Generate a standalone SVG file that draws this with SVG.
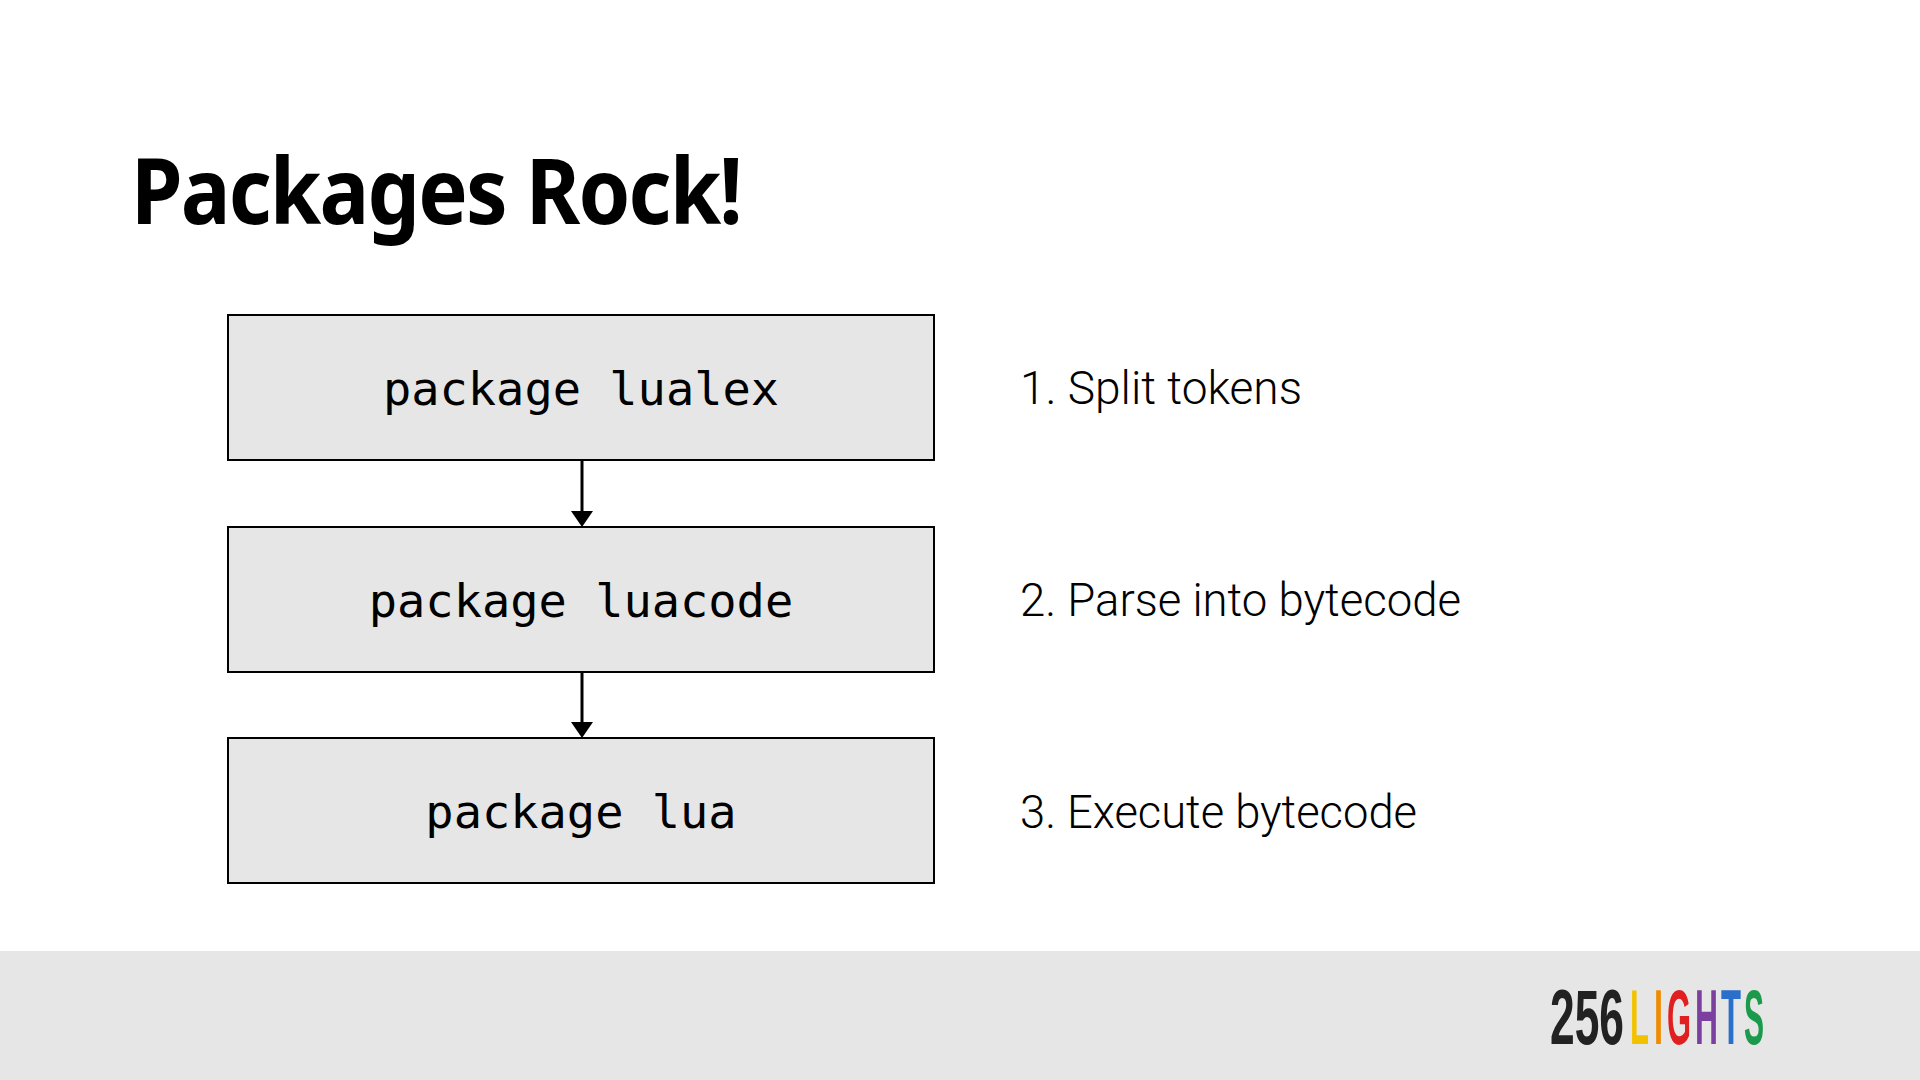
<svg xmlns="http://www.w3.org/2000/svg" width="1920" height="1080" viewBox="0 0 1920 1080">
<defs>
<style>
.box{fill:#e6e6e6;stroke:#000;stroke-width:2}
.code{font-family:"DejaVu Sans Mono","Liberation Mono",monospace;font-size:47px;fill:#000;text-anchor:middle}
.lbl{font-family:Roboto,"Noto Sans",sans-serif;font-weight:300;font-size:46px;fill:#000}
.con{stroke:#000;stroke-width:3;fill:none}
.logo{font-family:'Liberation Sans',sans-serif;font-weight:700;font-size:78px}
</style>
</defs>
<rect width="1920" height="1080" fill="#fff"/>
<text x="131" y="224" font-family="'Noto Sans',sans-serif" font-weight="700" font-size="92" textLength="610" lengthAdjust="spacingAndGlyphs" letter-spacing="-2">Packages Rock!</text>
<g id="n1"><rect class="box" x="228" y="315" width="706" height="145"/><text class="code" x="581" y="405">package lualex</text></g>
<g id="n2"><rect class="box" x="228" y="527" width="706" height="145"/><text class="code" x="581" y="617">package luacode</text></g>
<g id="n3"><rect class="box" x="228" y="738" width="706" height="145"/><text class="code" x="581" y="828">package lua</text></g>
<g id="connectors">
<path class="con" d="M582 461 V512"/>
<path class="con" d="M582 673 V724"/>
<path d="M571 511 L593 511 L582 527 z" fill="#000"/>
<path d="M571 722 L593 722 L582 738 z" fill="#000"/>
</g>
<g id="labels">
<text class="lbl" x="1020" y="404" textLength="282" lengthAdjust="spacingAndGlyphs">1. Split tokens</text>
<text class="lbl" x="1020" y="616" textLength="441" lengthAdjust="spacingAndGlyphs">2. Parse into bytecode</text>
<text class="lbl" x="1020" y="828" textLength="397" lengthAdjust="spacingAndGlyphs">3. Execute bytecode</text>
</g>
<rect x="0" y="951" width="1920" height="129" fill="#e6e6e6"/>
<g id="logo">
<text class="logo" x="1550" y="1044" fill="#222" textLength="74" lengthAdjust="spacingAndGlyphs">256</text>
<text class="logo" x="1630" y="1044" fill="#f2c200" textLength="19" lengthAdjust="spacingAndGlyphs">L</text>
<text class="logo" x="1654" y="1044" fill="#f08a00" textLength="9" lengthAdjust="spacingAndGlyphs">I</text>
<text class="logo" x="1667" y="1044" fill="#e02020" textLength="24" lengthAdjust="spacingAndGlyphs">G</text>
<text class="logo" x="1695" y="1044" fill="#7b3fa0" textLength="23" lengthAdjust="spacingAndGlyphs">H</text>
<text class="logo" x="1721" y="1044" fill="#2a6fc9" textLength="20" lengthAdjust="spacingAndGlyphs">T</text>
<text class="logo" x="1744" y="1044" fill="#1a9a4a" textLength="20" lengthAdjust="spacingAndGlyphs">S</text>
</g>
</svg>
